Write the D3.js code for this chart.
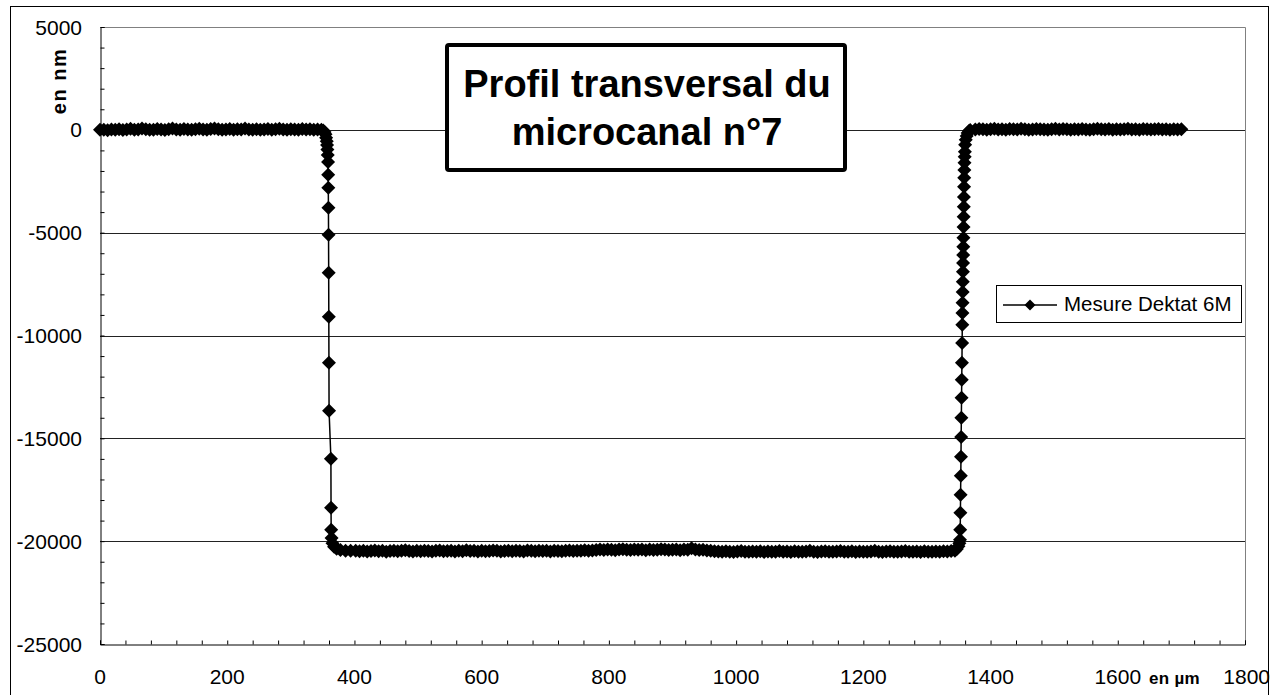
<!DOCTYPE html>
<html>
<head>
<meta charset="utf-8">
<script src="https://cdn.jsdelivr.net/npm/d3@7"></script>
<style>
  body { margin: 0; background: #fff; }
  svg { display: block; font-family: "Liberation Sans", Arial, sans-serif; }
</style>
</head>
<body>
<div id="chart"></div>
<script>
// Profile measured with the Dektak 6M (x in µm, y in nm)
const sampleStep = 6; // µm between samples on the flat parts

// top surface, left of the channel (x = 0 .. 348)
const leftFlatStart = 0;
const leftFlatY = [0, 10, -20, 20, 0, 30, -10, 20, 50, 10,
    20, 60, 30, 10, 0, 40, 20, -10, 30, 60,
    20, 10, 40, 20, 0, 30, 50, 20, 10, 40,
    70, 30, 10, 20, 40, 0, 30, 20, 60, 20,
    10, 30, 0, 20, 40, 10, 30, 50, 20, 0,
    30, 20, 10, 40, 20, 30, 10, 20, 0];

// left wall
const leftWall = [[351, -30], [353, -100], [354.5, -220], [355.5, -380], [356.5, -560],
    [357, -740], [357.5, -960], [358, -1220], [358.5, -1560], [358.7, -2190],
    [358.9, -2820], [359.1, -3790], [359.3, -5100], [359.5, -6950], [359.7, -9090],
    [359.9, -11330], [360.1, -13660], [363, -15990], [363.2, -18370], [363.4, -19440],
    [364, -19850], [365.5, -20100], [368, -20270], [372, -20370], [378, -20430],
    [386, -20460], [394, -20470]];

// channel bottom (x = 402 .. 1344)
const bottomStart = 402;
const bottomY = [-20470, -20490, -20460, -20500, -20480, -20450, -20490, -20470, -20510, -20480,
    -20460, -20490, -20470, -20440, -20480, -20500, -20470, -20490, -20460, -20480,
    -20500, -20470, -20450, -20490, -20480, -20460, -20500, -20470, -20490, -20440,
    -20480, -20470, -20500, -20460, -20490, -20480, -20450, -20470, -20500, -20480,
    -20460, -20490, -20470, -20480, -20500, -20450, -20470, -20490, -20460, -20480,
    -20470, -20500, -20460, -20480, -20490, -20470, -20450, -20480, -20460, -20470,
    -20440, -20460, -20450, -20430,
    -20410, -20430, -20400, -20420, -20440, -20410, -20390, -20420, -20430, -20400,
    -20420, -20410, -20440, -20400, -20430, -20420, -20390, -20410, -20430, -20420,
    -20400, -20440, -20410, -20420, -20350, -20400, -20430, -20420, -20450, -20470,
    -20490,
    -20500, -20520, -20490, -20510, -20530, -20500, -20480, -20510, -20520, -20500,
    -20510, -20490, -20530, -20500, -20510, -20520, -20480, -20510, -20500, -20530,
    -20490, -20510, -20520, -20500, -20470, -20510, -20530, -20500, -20490, -20520,
    -20510, -20500, -20480, -20520, -20510, -20490, -20530, -20500, -20510, -20520,
    -20500, -20470, -20510, -20530, -20500, -20490, -20520, -20510, -20500, -20480,
    -20520, -20510, -20500, -20530, -20490, -20510, -20520, -20500, -20510, -20490,
    -20500, -20480, -20470];

// right wall
const rightWall = [[1347, -20380], [1349.5, -20250], [1351, -20100], [1352, -19930],
    [1352.3, -19450], [1352.6, -18620], [1352.9, -17740], [1353.2, -16820], [1353.5, -15900],
    [1353.8, -14930], [1354.1, -14000], [1354.4, -13030], [1354.7, -12150], [1355, -11330],
    [1355.3, -10360], [1355.6, -9480], [1355.8, -8900], [1356, -8410], [1356.2, -7880],
    [1356.4, -7390], [1356.6, -6900], [1356.8, -6470], [1357, -6080], [1357.2, -5690],
    [1357.4, -5250], [1357.6, -4720], [1357.8, -4230], [1358, -3740], [1358.2, -3260],
    [1358.4, -2770], [1358.6, -2330], [1358.8, -1950], [1359, -1600], [1359.3, -1310],
    [1359.6, -1070], [1360, -730], [1361, -480], [1362.5, -300], [1364, -160],
    [1366, -60], [1368, -10]];

// top surface, right of the channel (x = 1376 .. 1700)
const rightFlatStart = 1376;
const rightFlatY = [20, 40, 30, 10, 30, 50, 20, 30, 10, 40,
    30, 20, 50, 30, 10, 20, 40, 30, 20, 10,
    30, 50, 20, 40, 30, 10, 30, 20, 40, 20,
    10, 30, 50, 30, 20, 40, 10, 30, 20, 30,
    50, 20, 30, 10, 40, 30, 20, 30, 40, 20,
    30, 10, 30, 20, 30];

const yGridValues = [0, -5000, -10000, -15000, -20000];
const yLabelValues = [5000, 0, -5000, -10000, -15000, -20000, -25000];
const xLabelValues = [0, 200, 400, 600, 800, 1000, 1200, 1400, 1600, 1800];
const titleLines = ["Profil transversal du", "microcanal n°7"];
const seriesName = "Mesure Dektat 6M";

// assemble the series
const flat = (start, ys) => ys.map((y, i) => ({ x: start + i * sampleStep, y: y }));
const pairs = arr => arr.map(d => ({ x: d[0], y: d[1] }));
const data = [].concat(
    flat(leftFlatStart, leftFlatY),
    pairs(leftWall),
    flat(bottomStart, bottomY),
    pairs(rightWall),
    flat(rightFlatStart, rightFlatY)
);

const W = 1280, H = 695;
const plot = { left: 100, right: 1245, top: 27, bottom: 644 };

const svg = d3.select("#chart").append("svg")
    .attr("width", W)
    .attr("height", H);

// outer chart frame
svg.append("rect")
    .attr("x", 10.5).attr("y", 6.5)
    .attr("width", 1258).attr("height", 720)
    .attr("fill", "#fff").attr("stroke", "#000").attr("stroke-width", 1);

const x = d3.scaleLinear().domain([0, 1800]).range([plot.left, plot.right]);
const y = d3.scaleLinear().domain([-25000, 5000]).range([plot.bottom, plot.top]);

// plot frame (grey top / right)
svg.append("path")
    .attr("d", `M${plot.left},${plot.top + 0.5}H${plot.right + 0.5}V${plot.bottom}`)
    .attr("fill", "none").attr("stroke", "#808080").attr("stroke-width", 1);

// horizontal gridlines
svg.append("g").selectAll("line")
    .data(yGridValues)
    .enter().append("line")
    .attr("x1", plot.left).attr("x2", plot.right)
    .attr("y1", d => Math.round(y(d)) + 0.5).attr("y2", d => Math.round(y(d)) + 0.5)
    .attr("stroke", "#222").attr("stroke-width", 1);

// y axis
const yAxis = d3.axisRight(y)
    .tickValues(d3.range(-25000, 5001, 1000))
    .tickSize(4)
    .tickFormat("");
svg.append("g")
    .attr("transform", `translate(${plot.left + 0.5},0)`)
    .call(yAxis)
    .call(g => g.select(".domain").attr("stroke", "#000"));

svg.append("g").selectAll("text")
    .data(yLabelValues)
    .enter().append("text")
    .attr("x", 82)
    .attr("y", d => y(d))
    .attr("dy", "0.36em")
    .attr("text-anchor", "end")
    .attr("font-size", 21)
    .text(d => d);

// x axis
const xAxis = d3.axisTop(x)
    .tickValues(d3.range(0, 1801, 40))
    .tickSize(4)
    .tickFormat("");
svg.append("g")
    .attr("transform", `translate(0,${plot.bottom + 0.5})`)
    .call(xAxis)
    .call(g => g.select(".domain").attr("stroke", "#000"));

svg.append("g").selectAll("text")
    .data(xLabelValues)
    .enter().append("text")
    .attr("x", d => d === 1800 ? 1270 : x(d))
    .attr("y", 684)
    .attr("text-anchor", d => d === 1800 ? "end" : "middle")
    .attr("font-size", 21)
    .text(d => d);

// axis titles
svg.append("text")
    .attr("transform", "translate(66,81) rotate(-90)")
    .attr("text-anchor", "middle")
    .attr("font-size", 20)
    .attr("font-weight", "bold")
    .attr("letter-spacing", 1.5)
    .text("en nm");

svg.append("text")
    .attr("x", 1149).attr("y", 684)
    .attr("font-size", 17)
    .attr("font-weight", "bold")
    .attr("letter-spacing", 0.3)
    .text("en µm");

// series line + diamond markers
const line = d3.line().x(d => x(d.x)).y(d => y(d.y));
svg.append("path")
    .datum(data)
    .attr("d", line)
    .attr("fill", "none")
    .attr("stroke", "#000")
    .attr("stroke-width", 1.5);

const diamond = r => `M0,${-r}L${r},0L0,${r}L${-r},0Z`;
svg.append("g").selectAll("path")
    .data(data)
    .enter().append("path")
    .attr("transform", d => `translate(${x(d.x)},${y(d.y)})`)
    .attr("d", diamond(7))
    .attr("fill", "#000");

// title box
svg.append("rect")
    .attr("x", 447).attr("y", 45)
    .attr("width", 398).attr("height", 125)
    .attr("rx", 2)
    .attr("fill", "#fff").attr("stroke", "#000").attr("stroke-width", 4);

svg.append("g").selectAll("text")
    .data(titleLines)
    .enter().append("text")
    .attr("x", 647)
    .attr("y", (d, i) => 97 + i * 48)
    .attr("text-anchor", "middle")
    .attr("font-size", 38)
    .attr("font-weight", "bold")
    .text(d => d);

// legend
const legend = svg.append("g");
legend.append("rect")
    .attr("x", 996.5).attr("y", 285.5)
    .attr("width", 245).attr("height", 37)
    .attr("fill", "#fff").attr("stroke", "#000").attr("stroke-width", 1);
legend.append("line")
    .attr("x1", 1003).attr("x2", 1057)
    .attr("y1", 305).attr("y2", 305)
    .attr("stroke", "#000").attr("stroke-width", 1.5);
legend.append("path")
    .attr("transform", "translate(1030,305)")
    .attr("d", diamond(5.5))
    .attr("fill", "#000");
legend.append("text")
    .attr("x", 1064).attr("y", 311)
    .attr("font-size", 20.5)
    .text(seriesName);
</script>
</body>
</html>
